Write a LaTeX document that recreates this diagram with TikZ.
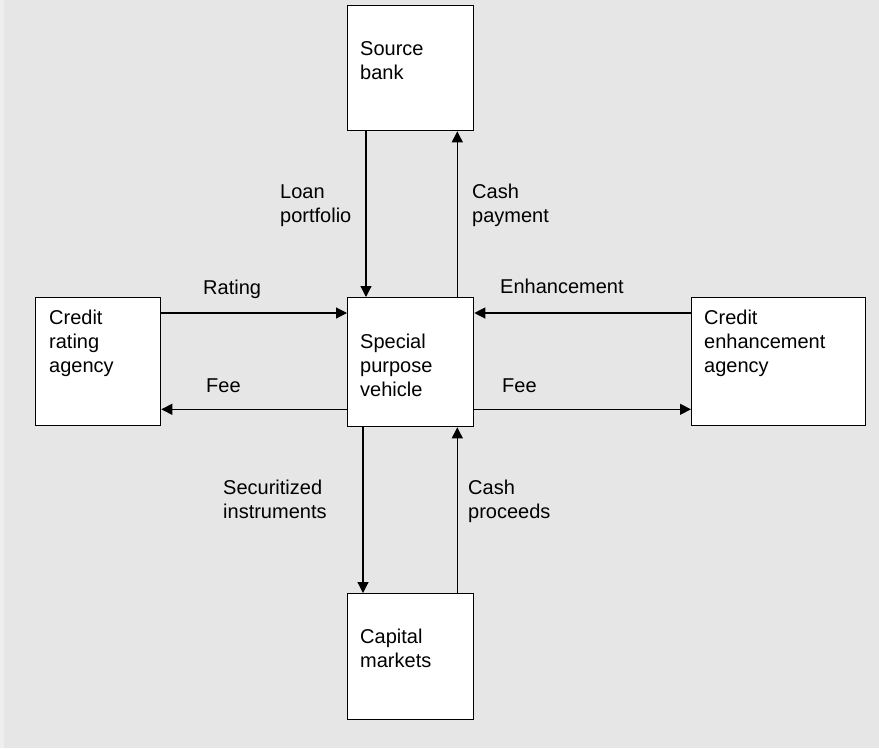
\documentclass[tikz,border=0pt]{standalone}
\usepackage{fontspec}
\setmainfont{Liberation Sans}
\usetikzlibrary{arrows.meta,calc}
\definecolor{bggray}{HTML}{E6E6E6}
\definecolor{edgegray}{HTML}{EEEEEE}
\tikzset{
  box/.style={draw=black, fill=white, line width=1.3pt, inner sep=0pt, anchor=north west},
  txt/.style={font={\fontsize{20}{24}\selectfont}, text width=160pt, align=left, inner sep=0pt, anchor=base west},
  arr/.style={line width=1.2pt, -{Triangle[length=11pt,width=11pt]}}
}
\begin{document}
\begin{tikzpicture}[x=1pt,y=-1pt]
\path[fill=bggray] (0,0) rectangle (879,748);
\path[fill=edgegray] (0,0) rectangle (4,748);
\useasboundingbox (0,0) rectangle (879,748);
% boxes
\node[box, minimum width=126pt, minimum height=125pt] (sb) at (347,5) {};
\node[box, minimum width=126pt, minimum height=129pt] (spv) at (347,297) {};
\node[box, minimum width=125pt, minimum height=128pt] (cra) at (35,297) {};
\node[box, minimum width=174pt, minimum height=128pt] (cea) at (691,297) {};
\node[box, minimum width=126pt, minimum height=126pt] (cm) at (347,593) {};
% box texts
\node[txt] (sbt) at (360,55) {Source\\bank};
\node[txt] (spvt) at (360,348) {Special\\purpose\\vehicle};
\node[txt] (cmt) at (360,643) {Capital\\markets};
\node[txt] (crat) at (49,324) {Credit\\rating\\agency};
\node[txt] (ceat) at (704,324) {Credit\\enhancement\\agency};
% labels
\node[txt] (l1) at (280,198) {Loan\\portfolio};
\node[txt] (l2) at (472,198) {Cash\\payment};
\node[txt] (l3) at (203,294) {Rating};
\node[txt] (l4) at (500,293) {Enhancement};
\node[txt] (l5) at (206,392) {Fee};
\node[txt] (l6) at (502,392) {Fee};
\node[txt] (l7) at (223,494) {Securitized\\instruments};
\node[txt] (l8) at (468,494) {Cash\\proceeds};
% connectors
\draw[arr] ([xshift=19pt]sb.south west) -- ([xshift=19pt]sb.south west |- spv.north);
\draw[arr] ([xshift=-17pt]spv.north east) -- ([xshift=-17pt]spv.north east |- sb.south);
\draw[arr] ([yshift=-16pt]cra.north east) -- ([yshift=-16pt]cra.north east -| spv.west);
\draw[arr] ([yshift=-16pt]cea.north west) -- ([yshift=-16pt]cea.north west -| spv.east);
\draw[arr] ([yshift=18pt]spv.south west) -- ([yshift=18pt]spv.south west -| cra.east);
\draw[arr] ([yshift=18pt]spv.south east) -- ([yshift=18pt]spv.south east -| cea.west);
\draw[arr] ([xshift=16pt]spv.south west) -- ([xshift=16pt]spv.south west |- cm.north);
\draw[arr] ([xshift=-17pt]cm.north east) -- ([xshift=-17pt]cm.north east |- spv.south);
\end{tikzpicture}
\end{document}
